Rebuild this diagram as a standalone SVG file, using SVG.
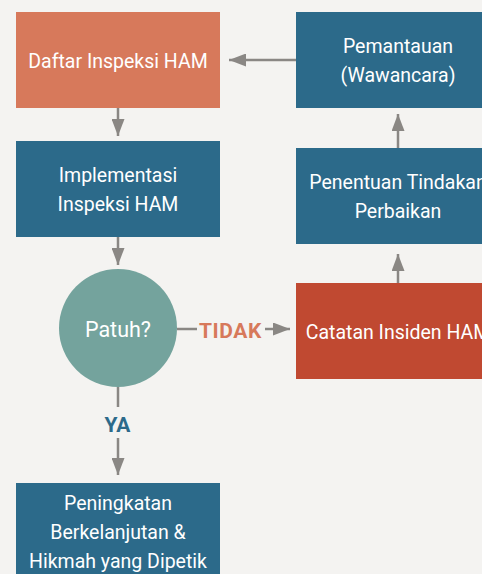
<svg xmlns="http://www.w3.org/2000/svg" width="482" height="574" viewBox="0 0 482 574">
<style>
.bg{fill:#F4F3F1}
.orange{fill:#D7795B}
.blue{fill:#2C6A8A}
.red{fill:#C04931}
.teal{fill:#74A39D}
.t{font-family:Roboto,"Liberation Sans",sans-serif;font-size:19.5px;fill:#FFFFFF;text-anchor:middle}
.lbl{font-family:Roboto,"Liberation Sans",sans-serif;font-size:21px;font-weight:bold;text-anchor:middle}
.ln{stroke:#8A8784;stroke-width:2.5;fill:none}
</style>
<defs>
<marker id="ah" viewBox="0 0 17 13" refX="17" refY="6.5" markerWidth="17" markerHeight="13" markerUnits="userSpaceOnUse" orient="auto">
<path d="M0,0 L17,6.5 L0,13 Z" fill="#8A8784"/>
</marker>
</defs>
<rect class="bg" x="0" y="0" width="482" height="574"/>
<g id="connectors">
<line class="ln" x1="118" y1="108" x2="118" y2="136" marker-end="url(#ah)"/>
<line class="ln" x1="118" y1="237" x2="118" y2="265" marker-end="url(#ah)"/>
<line class="ln" x1="118" y1="387" x2="118" y2="407"/>
<line class="ln" x1="118" y1="438" x2="118" y2="475" marker-end="url(#ah)"/>
<line class="ln" x1="177" y1="329" x2="197" y2="329"/>
<line class="ln" x1="265" y1="329" x2="290" y2="329" marker-end="url(#ah)"/>
<line class="ln" x1="398" y1="283" x2="398" y2="254" marker-end="url(#ah)"/>
<line class="ln" x1="398" y1="148" x2="398" y2="114" marker-end="url(#ah)"/>
<line class="ln" x1="296" y1="60" x2="229" y2="60" marker-end="url(#ah)"/>
<text class="lbl" x="230.5" y="337.5" fill="#D7795B" style="letter-spacing:0.6px">TIDAK</text>
<text class="lbl" x="117.5" y="431.5" fill="#2C6A8A">YA</text>
</g>
<g id="daftar">
<rect class="orange" x="16" y="12" width="204" height="96"/>
<text class="t" x="118" y="67.5">Daftar Inspeksi HAM</text>
</g>
<g id="implementasi">
<rect class="blue" x="16" y="141" width="204" height="96"/>
<text class="t" x="118" y="181.5">Implementasi</text>
<text class="t" x="118" y="210.5">Inspeksi HAM</text>
</g>
<g id="patuh">
<circle class="teal" cx="118" cy="328" r="59"/>
<text class="t" x="118" y="336.5" style="font-size:21.5px">Patuh?</text>
</g>
<g id="peningkatan">
<rect class="blue" x="16" y="483" width="204" height="110"/>
<text class="t" x="118" y="510">Peningkatan</text>
<text class="t" x="118" y="539">Berkelanjutan &amp;</text>
<text class="t" x="118" y="568">Hikmah yang Dipetik</text>
</g>
<g id="pemantauan">
<rect class="blue" x="296" y="12" width="204" height="96"/>
<text class="t" x="398" y="53">Pemantauan</text>
<text class="t" x="398" y="82">(Wawancara)</text>
</g>
<g id="penentuan">
<rect class="blue" x="296" y="148" width="204" height="96"/>
<text class="t" x="398" y="188.5">Penentuan Tindakan</text>
<text class="t" x="398" y="217.5">Perbaikan</text>
</g>
<g id="catatan">
<rect class="red" x="296" y="283" width="204" height="96"/>
<text class="t" x="398" y="338.5">Catatan Insiden HAM</text>
</g>
</svg>
